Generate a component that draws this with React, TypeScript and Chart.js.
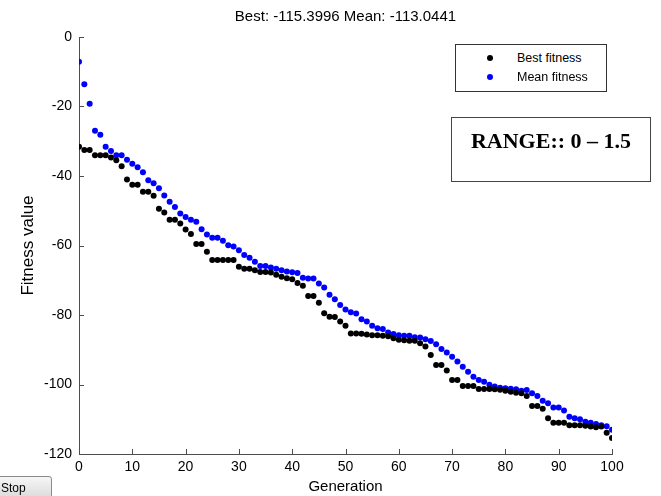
import React, { useEffect, useRef } from "react";
import { Chart, registerables } from "chart.js";

Chart.register(...registerables);

const bestLabel = "Best fitness";
const meanLabel = "Mean fitness";
const bestFinal = -115.3996;
const meanFinal = -113.0441;
const xTickValues = [0, 10, 20, 30, 40, 50, 60, 70, 80, 90, 100];
const yTickValues = [0, -20, -40, -60, -80, -100, -120];
const rangeText = "RANGE:: 0 \u2013 1.5";

const bestFitness = [
  -31.6, -32.5, -32.5, -34.0, -34.0, -34.0, -34.7, -35.5, -37.2, -41.0,
  -42.5, -42.5, -44.5, -44.5, -45.7, -49.4, -50.5, -52.6, -52.6, -53.7,
  -55.4, -56.7, -59.6, -59.6, -61.8, -64.2, -64.2, -64.2, -64.2, -64.2,
  -66.1, -66.7, -66.7, -67.1, -67.6, -67.6, -67.8, -68.4, -69.0, -69.4,
  -69.7, -70.8, -71.6, -74.5, -74.5, -76.5, -79.5, -80.5, -80.6, -81.9,
  -83.1, -85.3, -85.3, -85.4, -85.6, -85.8, -85.8, -86.0, -86.1, -86.7,
  -87.1, -87.3, -87.4, -87.4, -88.1, -89.1, -91.5, -94.4, -94.4, -96.0,
  -98.7, -98.7, -100.4, -100.4, -100.4, -101.3, -101.3, -101.3, -101.4, -101.5,
  -101.8, -102.1, -102.4, -102.5, -103.3, -106.2, -106.2, -107.0, -109.7, -111.0,
  -111.0, -111.0, -111.7, -111.7, -111.7, -111.9, -112.1, -112.3, -112.1, -113.9,
  bestFinal,
];

const meanFitness = [
  -7.1, -13.6, -19.2, -27.0, -28.1, -31.6, -32.8, -34.0, -34.0, -35.3,
  -36.5, -37.5, -38.9, -41.2, -42.1, -43.5, -45.6, -47.4, -48.9, -50.8,
  -51.8, -52.6, -53.2, -55.3, -56.8, -57.8, -57.8, -58.6, -59.9, -60.3,
  -61.4, -62.7, -63.5, -64.7, -65.9, -65.9, -66.3, -66.7, -67.1, -67.5,
  -67.7, -67.9, -69.3, -69.5, -69.5, -70.9, -72.1, -74.2, -75.5, -77.1,
  -78.4, -79.2, -79.6, -81.2, -81.9, -83.1, -83.8, -84.0, -85.0, -85.5,
  -85.8, -86.0, -86.0, -86.4, -86.5, -87.0, -87.5, -88.4, -89.8, -90.8,
  -92.0, -93.4, -94.9, -96.3, -97.8, -98.7, -99.2, -100.1, -100.6, -100.9,
  -101.1, -101.2, -101.4, -101.8, -101.6, -102.5, -103.3, -104.7, -105.4, -106.6,
  -106.6, -107.5, -109.3, -109.7, -110.0, -110.7, -111.0, -111.4, -111.7, -112.0,
  meanFinal,
];

const titleText = `Best: ${bestFinal.toFixed(4)} Mean: ${meanFinal.toFixed(4)}`;

const SANS = "'Liberation Sans', Arial, sans-serif";
const AXIS_COLOR = "#4d4d4d";

const inwardTicks = {
  id: "inwardTicks",
  afterDraw(chart: any) {
    const { ctx, chartArea, scales } = chart;
    ctx.save();
    ctx.strokeStyle = AXIS_COLOR;
    ctx.lineWidth = 1;
    ctx.beginPath();
    xTickValues.forEach((v) => {
      const px = Math.round(scales.x.getPixelForValue(v)) + 0.5;
      ctx.moveTo(px, chartArea.bottom);
      ctx.lineTo(px, chartArea.bottom - 5);
    });
    yTickValues.forEach((v) => {
      const py = Math.round(scales.y.getPixelForValue(v)) + 0.5;
      ctx.moveTo(chartArea.left, py);
      ctx.lineTo(chartArea.left + 5, py);
    });
    ctx.stroke();
    ctx.restore();
  },
};

const centeredTitle = {
  id: "centeredTitle",
  afterDraw(chart: any) {
    const { ctx, chartArea } = chart;
    ctx.save();
    ctx.fillStyle = "#000";
    ctx.font = `15px ${SANS}`;
    ctx.textAlign = "center";
    ctx.textBaseline = "middle";
    ctx.fillText(titleText, (chartArea.left + chartArea.right) / 2, 17);
    ctx.restore();
  },
};

export default function App() {
  const canvasRef = useRef<HTMLCanvasElement | null>(null);

  useEffect(() => {
    if (!canvasRef.current) return;
    const chart = new Chart(canvasRef.current, {
      type: "scatter",
      data: {
        datasets: [
          {
            label: bestLabel,
            data: bestFitness.map((y, i) => ({ x: i, y })),
            backgroundColor: "#000000",
            borderWidth: 0,
            pointRadius: 3,
            showLine: false,
          },
          {
            label: meanLabel,
            data: meanFitness.map((y, i) => ({ x: i, y })),
            backgroundColor: "#0000ff",
            borderWidth: 0,
            pointRadius: 3,
            showLine: false,
          },
        ],
      },
      options: {
        animation: false,
        responsive: false,
        maintainAspectRatio: false,
        layout: { padding: { top: 37, right: 49, left: 0, bottom: 0 } },
        plugins: {
          legend: { display: false },
          title: { display: false },
          tooltip: { enabled: false },
        },
        scales: {
          x: {
            type: "linear",
            min: 0,
            max: 100,
            afterBuildTicks: (s: any) => {
              s.ticks = xTickValues.map((v) => ({ value: v }));
            },
            ticks: {
              color: "#000",
              font: { family: SANS, size: 14 },
              padding: 5,
              maxRotation: 0,
            },
            grid: { display: true, drawOnChartArea: false, drawTicks: false, color: "rgba(0,0,0,0)" },
            border: { display: true, color: AXIS_COLOR, width: 1 },
            title: {
              display: true,
              text: "Generation",
              color: "#000",
              font: { family: SANS, size: 15 },
              padding: { top: 0, bottom: 0 },
            },
            afterFit: (s: any) => {
              s.height = 42;
            },
          },
          y: {
            type: "linear",
            min: -120,
            max: 0,
            afterBuildTicks: (s: any) => {
              s.ticks = yTickValues.map((v) => ({ value: v }));
            },
            ticks: {
              color: "#000",
              font: { family: SANS, size: 14 },
              padding: 7,
            },
            grid: { display: true, drawOnChartArea: false, drawTicks: false, color: "rgba(0,0,0,0)" },
            border: { display: true, color: AXIS_COLOR, width: 1 },
            title: {
              display: true,
              text: "Fitness value",
              color: "#000",
              font: { family: SANS, size: 17 },
              padding: { top: 18, bottom: 0 },
            },
            afterFit: (s: any) => {
              s.width = 79;
            },
          },
        },
      },
      plugins: [inwardTicks, centeredTitle],
    });
    return () => chart.destroy();
  }, []);

  const legendItems = [
    { label: bestLabel, color: "#000000" },
    { label: meanLabel, color: "#0000ff" },
  ];

  return (
    <div style={{ position: "fixed", left: 0, top: 0, width: 661, height: 496, background: "#fff", overflow: "hidden" }}>
      <canvas ref={canvasRef} width={661} height={496} style={{ display: "block", width: 661, height: 496 }} />
      <div
        style={{
          position: "absolute",
          left: 455,
          top: 44,
          width: 150,
          height: 46,
          border: "1px solid #333",
          background: "#fff",
          fontFamily: SANS,
          fontSize: 12.5,
          color: "#000",
        }}
      >
        {legendItems.map((it, i) => (
          <div key={i} style={{ position: "absolute", left: 0, top: 4 + i * 19, height: 18, width: 150 }}>
            <span
              style={{
                position: "absolute",
                left: 31,
                top: 6,
                width: 6,
                height: 6,
                borderRadius: 3,
                background: it.color,
              }}
            />
            <span style={{ position: "absolute", left: 61, top: 1, whiteSpace: "nowrap", lineHeight: "16px" }}>{it.label}</span>
          </div>
        ))}
      </div>
      <div
        style={{
          position: "absolute",
          left: 451,
          top: 117,
          width: 198,
          height: 63,
          border: "1px solid #444",
          background: "#fff",
        }}
      >
        <div
          style={{
            position: "absolute",
            left: 0,
            top: 10,
            width: 198,
            textAlign: "center",
            fontFamily: "'Liberation Serif', 'Times New Roman', serif",
            fontWeight: "bold",
            fontSize: 22,
            lineHeight: "26px",
            color: "#000",
            whiteSpace: "nowrap",
          }}
        >
          {rangeText}
        </div>
      </div>
      <div
        style={{
          position: "absolute",
          left: -12,
          top: 476,
          width: 64,
          height: 22,
          border: "1px solid #8a8a8a",
          borderRadius: 3,
          background: "linear-gradient(#f6f6f6, #dcdcdc)",
          fontFamily: SANS,
          fontSize: 12,
          lineHeight: "22px",
          color: "#000",
          boxSizing: "border-box",
        }}
      >
        <span style={{ position: "absolute", left: 12, top: 0 }}>Stop</span>
      </div>
    </div>
  );
}
